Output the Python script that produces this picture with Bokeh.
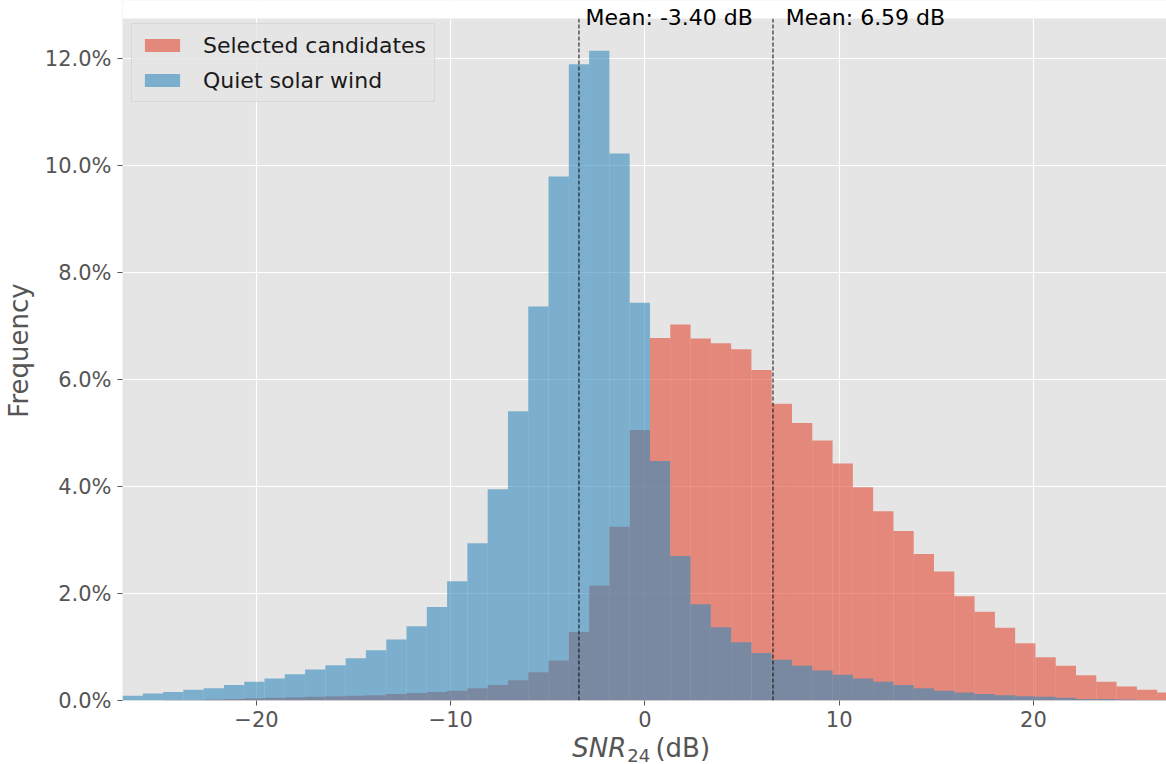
import numpy as np
from bokeh.plotting import figure
from bokeh.layouts import column
from bokeh.models import (Range1d, FixedTicker, PrintfTickFormatter, Label, BoxAnnotation,
                          Legend, LegendItem, ColumnDataSource)
from bokeh.embed import file_html
from bokeh.resources import INLINE

# Histogram bins (dB): 52 equal-width bins
bin_start = -26.9
bin_width = 1.0445
n_bins = 52

# Frequency (%) per bin
selected_candidates = [
    0.00, 0.00, 0.01, 0.01, 0.02, 0.03, 0.04, 0.05, 0.06, 0.07,
    0.08, 0.09, 0.10, 0.12, 0.14, 0.16, 0.18, 0.23, 0.29, 0.38,
    0.53, 0.75, 1.28, 2.15, 3.25, 5.06, 6.78, 7.03, 6.77, 6.68,
    6.57, 6.18, 5.55, 5.19, 4.86, 4.43, 3.99, 3.54, 3.17, 2.74,
    2.41, 1.95, 1.66, 1.36, 1.07, 0.81, 0.65, 0.47, 0.35, 0.26,
    0.20, 0.15,
]
quiet_solar_wind = [
    0.09, 0.13, 0.16, 0.20, 0.23, 0.29, 0.35, 0.41, 0.49, 0.58,
    0.66, 0.79, 0.94, 1.14, 1.39, 1.75, 2.23, 2.94, 3.95, 5.41,
    7.37, 9.80, 11.90, 12.15, 10.23, 7.44, 4.48, 2.70, 1.80, 1.37,
    1.09, 0.89, 0.76, 0.65, 0.56, 0.48, 0.41, 0.35, 0.29, 0.23,
    0.18, 0.15, 0.12, 0.10, 0.08, 0.07, 0.05, 0.03, 0.03, 0.02,
    0.01, 0.01,
]
means = [-3.40, 6.59]

x_ticks = [-20, -10, 0, 10, 20]
y_ticks = [0, 2, 4, 6, 8, 10, 12]

edges = bin_start + bin_width * np.arange(n_bins + 1)
left, right = edges[:-1], edges[1:]

RED = "#E24A33"
BLUE = "#348ABD"
GREY = "#555555"
FONT = "DejaVu Sans"

Y_TOP = 12.76          # upper limit of the shaded axes area
Y_CANVAS_TOP = 13.09   # top of the drawing area (white strip holds the mean labels)

x_range = Range1d(-26.9, 26.85)

p = figure(width=1166, height=735,
           x_range=x_range, y_range=Range1d(0, Y_CANVAS_TOP),
           output_backend="svg", toolbar_location=None,
           min_border_left=122, min_border_right=0,
           min_border_top=0, min_border_bottom=35)
p.background_fill_color = "#E5E5E5"
p.border_fill_color = "white"
p.outline_line_color = None

# white strip above the axes area
p.add_layout(BoxAnnotation(bottom=Y_TOP, top=Y_CANVAS_TOP + 1, fill_color="white",
                           fill_alpha=1.0, line_color="white", line_width=2, level="glyph"))

src_sel = ColumnDataSource(dict(left=left, right=right, top=selected_candidates))
src_quiet = ColumnDataSource(dict(left=left, right=right, top=quiet_solar_wind))

r_sel = p.quad(left="left", right="right", top="top", bottom=0, source=src_sel,
               fill_color=RED, fill_alpha=0.6, line_color=None)
r_quiet = p.quad(left="left", right="right", top="top", bottom=0, source=src_quiet,
                 fill_color=BLUE, fill_alpha=0.6, line_color=None)

# axes
xaxis = p.xaxis[0]
yaxis = p.yaxis[0]
for ax in (xaxis, yaxis):
    ax.axis_line_color = None
    ax.major_tick_line_color = GREY
    ax.major_tick_out = 5
    ax.major_tick_in = 0
    ax.minor_tick_line_color = None
    ax.major_label_text_font = FONT
    ax.major_label_text_font_size = "21px"
    ax.major_label_text_color = GREY
    ax.major_label_standoff = 6
xaxis.major_label_standoff = 5

xaxis.ticker = FixedTicker(ticks=x_ticks)
xaxis.major_label_overrides = {t: ("\u2212" + str(abs(t)) if t < 0 else str(t)) for t in x_ticks}
yaxis.ticker = FixedTicker(ticks=y_ticks)
yaxis.formatter = PrintfTickFormatter(format="%.1f%%")

yaxis.axis_label = "Frequency"
yaxis.axis_label_text_font = FONT
yaxis.axis_label_text_font_size = "26px"
yaxis.axis_label_text_font_style = "normal"
yaxis.axis_label_text_color = GREY
yaxis.axis_label_standoff = 8

p.grid.grid_line_color = "white"
p.grid.grid_line_width = 1.2

# mean markers
p.segment(x0=means, y0=0, x1=means, y1=Y_TOP, line_color="black",
          line_dash="4 2", line_width=1.2, line_alpha=0.8)
for m in means:
    p.add_layout(Label(x=m + 0.1 * abs(m), y=Y_TOP, y_offset=0.5,
                       text=f"Mean: {m:.2f} dB", text_font=FONT,
                       text_font_size="22px", text_color="black",
                       text_baseline="alphabetic"))

legend = Legend(items=[LegendItem(label="Selected candidates", renderers=[r_sel]),
                       LegendItem(label="Quiet solar wind", renderers=[r_quiet])],
                location=(9, 598))
legend.label_text_font = FONT
legend.label_text_font_size = "22px"
legend.label_text_color = "#1A1A1A"
legend.glyph_width = 44
legend.glyph_height = 16
legend.label_standoff = 19
legend.label_height = 26
legend.spacing = 9
legend.padding = 8
legend.margin = 0
legend.background_fill_color = "#E5E5E5"
legend.background_fill_alpha = 0.8
legend.border_line_color = "#CCCCCC"
legend.border_line_width = 1
p.add_layout(legend)

# x-axis title strip: italic SNR with subscript 24, then (dB)
q = figure(width=1166, height=29, x_range=x_range, y_range=Range1d(29, 0),
           output_backend="svg", toolbar_location=None,
           x_axis_type=None, y_axis_type=None,
           min_border_left=122, min_border_right=0, min_border_top=0, min_border_bottom=0)
q.outline_line_color = None
q.background_fill_color = "white"
q.border_fill_color = "white"
q.grid.visible = False
for txt, xl, ym, size, style in [("SNR", -3.74, 12.5, "26px", "italic"),
                                 ("24", -0.91, 20.0, "18px", "normal"),
                                 ("(dB)", 0.54, 12.5, "26px", "normal")]:
    q.add_layout(Label(x=xl, y=ym, text=txt, text_font=FONT, text_font_size=size,
                       text_font_style=style, text_color=GREY,
                       text_baseline="middle"))

layout = column(p, q, spacing=0)
open("out.html", "w").write(file_html(layout, INLINE))
